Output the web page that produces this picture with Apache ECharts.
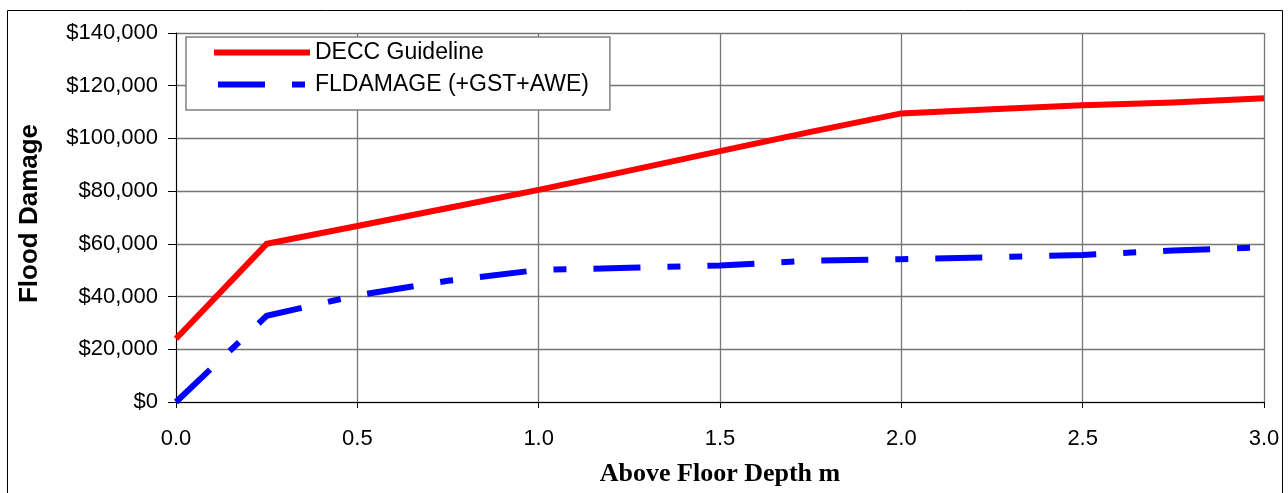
<!DOCTYPE html>
<html>
<head>
<meta charset="utf-8">
<script src="https://cdn.jsdelivr.net/npm/echarts@6/dist/echarts.min.js"></script>
<style>
  html, body { margin: 0; padding: 0; background: #fff; }
  #chart { width: 1288px; height: 493px; }
</style>
</head>
<body>
<div id="chart"></div>
<script>
// ---- data ----
var depths = [0, 0.25, 0.5, 0.75, 1.0, 1.25, 1.5, 1.75, 2.0, 2.25, 2.5, 2.75, 3.0];
var deccGuideline = [24000, 60000, 66800, 73600, 80500, 87800, 95200, 102500, 109500, 111100, 112600, 113600, 115200];
var fldamage = [0, 32700, 40500, 46000, 50100, 50900, 51800, 53600, 54200, 54900, 55800, 57500, 58700];
var seriesNames = ['DECC Guideline', 'FLDAMAGE (+GST+AWE)'];
var xTickLabels = ['0.0', '0.5', '1.0', '1.5', '2.0', '2.5', '3.0'];
var yTickLabels = ['$0', '$20,000', '$40,000', '$60,000', '$80,000', '$100,000', '$120,000', '$140,000'];
var xTitle = 'Above Floor Depth m';
var yTitle = 'Flood Damage';

function pairs(xs, ys) { return xs.map(function (x, i) { return [x, ys[i]]; }); }

var chart = echarts.init(document.getElementById('chart'), null, { renderer: 'canvas' });
var gridColor = '#767676';
chart.setOption({
  animation: false,
  backgroundColor: '#ffffff',
  graphic: [{
    type: 'rect',
    shape: { x: 7.5, y: 10.5, width: 1275, height: 495 },
    style: { fill: null, stroke: '#000', lineWidth: 1 },
    silent: true
  }],
  grid: { left: 176, right: 24, top: 33, bottom: 91, containLabel: false },
  legend: {
    orient: 'vertical',
    left: 186, top: 37,
    padding: [1, 21, 11, 25],
    itemGap: 3,
    itemWidth: 96,
    itemHeight: 14,
    backgroundColor: '#ffffff',
    borderColor: '#808080',
    borderWidth: 1.5,
    borderRadius: 0,
    selectedMode: false,
    itemStyle: { opacity: 0 },
    lineStyle: { width: 6, dashOffset: 110 },
    textStyle: {
      fontFamily: 'Liberation Sans, Arial, sans-serif',
      fontSize: 23, lineHeight: 23, color: '#000',
      padding: [6, 0, 0, 0]
    },
    data: seriesNames
  },
  xAxis: {
    type: 'value',
    min: 0, max: 3, interval: 0.5,
    name: xTitle,
    nameLocation: 'middle',
    nameGap: 59,
    nameTextStyle: { fontFamily: 'Liberation Serif, Times New Roman, serif', fontWeight: 'bold', fontSize: 26, color: '#000' },
    axisLine: { show: true, onZero: false, lineStyle: { color: '#000', width: 1 } },
    axisTick: { show: true, inside: false, length: 6, lineStyle: { color: '#000', width: 1 } },
    axisLabel: {
      margin: 26,
      fontFamily: 'Liberation Sans, Arial, sans-serif', fontSize: 22, color: '#000',
      formatter: function (v) { return xTickLabels[Math.round(v / 0.5)]; }
    },
    splitLine: { show: true, lineStyle: { color: gridColor, width: 1.3 } }
  },
  yAxis: {
    type: 'value',
    min: 0, max: 140000, interval: 20000,
    name: yTitle,
    nameLocation: 'middle',
    nameGap: 133,
    nameTextStyle: { fontFamily: 'Liberation Sans, Arial, sans-serif', fontWeight: 'bold', fontSize: 26, color: '#000', padding: [0, 0, 0, 8] },
    axisLine: { show: true, lineStyle: { color: '#000', width: 1 } },
    axisTick: { show: true, inside: false, length: 8, lineStyle: { color: '#000', width: 1 } },
    axisLabel: {
      margin: 18,
      fontFamily: 'Liberation Sans, Arial, sans-serif', fontSize: 22, color: '#000',
      formatter: function (v) { return yTickLabels[Math.round(v / 20000)]; }
    },
    splitLine: { show: true, lineStyle: { color: gridColor, width: 1.3 } }
  },
  series: [{
    name: seriesNames[0],
    type: 'line',
    data: pairs(depths, deccGuideline),
    symbol: 'none',
    showSymbol: false,
    lineStyle: { color: '#ff0000', width: 6, join: 'miter' },
    itemStyle: { color: '#ff0000' },
    z: 3
  }, {
    name: seriesNames[1],
    type: 'line',
    data: pairs(depths, fldamage),
    symbol: 'none',
    showSymbol: false,
    lineStyle: { color: '#0000ff', width: 6, type: [47, 27, 13, 27], cap: 'butt', join: 'miter' },
    itemStyle: { color: '#0000ff' },
    z: 3
  }]
});
</script>
</body>
</html>
